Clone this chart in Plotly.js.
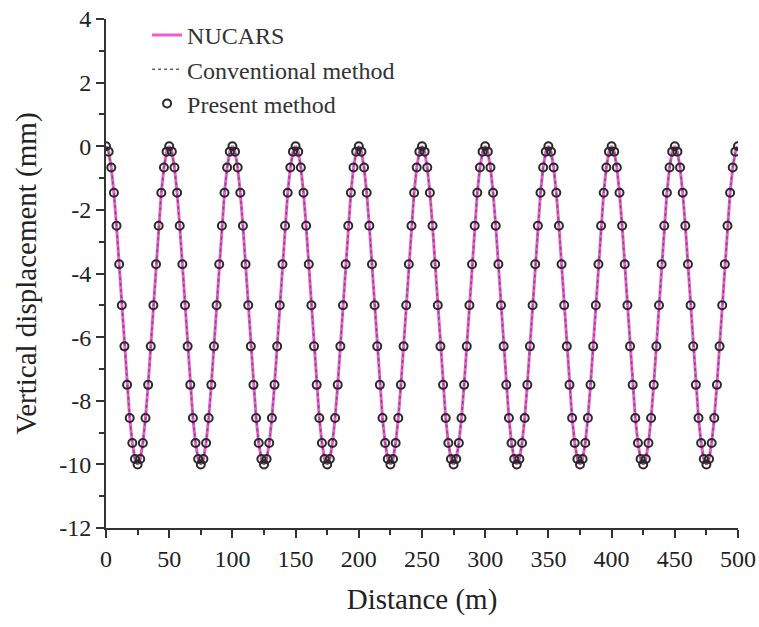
<!DOCTYPE html>
<html>
<head>
<meta charset="utf-8">
<script src="https://cdn.plot.ly/plotly-3.0.1.min.js"></script>
<style>html,body{margin:0;padding:0;background:#fff;}#chart{width:759px;height:627px;}</style>
</head>
<body>
<div id="chart"></div>
<script>
// Distance (m) sampling points (24 points per 50 m wave)
const distance = [
  0,2.08,4.17,6.25,8.33,10.42,12.5,14.58,16.67,18.75,20.83,22.92,25,27.08,29.17,31.25,33.33,35.42,37.5,39.58,41.67,43.75,45.83,47.92,
  50,52.08,54.17,56.25,58.33,60.42,62.5,64.58,66.67,68.75,70.83,72.92,75,77.08,79.17,81.25,83.33,85.42,87.5,89.58,91.67,93.75,95.83,97.92,
  100,102.08,104.17,106.25,108.33,110.42,112.5,114.58,116.67,118.75,120.83,122.92,125,127.08,129.17,131.25,133.33,135.42,137.5,139.58,141.67,143.75,145.83,147.92,
  150,152.08,154.17,156.25,158.33,160.42,162.5,164.58,166.67,168.75,170.83,172.92,175,177.08,179.17,181.25,183.33,185.42,187.5,189.58,191.67,193.75,195.83,197.92,
  200,202.08,204.17,206.25,208.33,210.42,212.5,214.58,216.67,218.75,220.83,222.92,225,227.08,229.17,231.25,233.33,235.42,237.5,239.58,241.67,243.75,245.83,247.92,
  250,252.08,254.17,256.25,258.33,260.42,262.5,264.58,266.67,268.75,270.83,272.92,275,277.08,279.17,281.25,283.33,285.42,287.5,289.58,291.67,293.75,295.83,297.92,
  300,302.08,304.17,306.25,308.33,310.42,312.5,314.58,316.67,318.75,320.83,322.92,325,327.08,329.17,331.25,333.33,335.42,337.5,339.58,341.67,343.75,345.83,347.92,
  350,352.08,354.17,356.25,358.33,360.42,362.5,364.58,366.67,368.75,370.83,372.92,375,377.08,379.17,381.25,383.33,385.42,387.5,389.58,391.67,393.75,395.83,397.92,
  400,402.08,404.17,406.25,408.33,410.42,412.5,414.58,416.67,418.75,420.83,422.92,425,427.08,429.17,431.25,433.33,435.42,437.5,439.58,441.67,443.75,445.83,447.92,
  450,452.08,454.17,456.25,458.33,460.42,462.5,464.58,466.67,468.75,470.83,472.92,475,477.08,479.17,481.25,483.33,485.42,487.5,489.58,491.67,493.75,495.83,497.92,
  500
];

// Vertical displacement (mm); the three curves coincide
const nucarsDisp = [
  0,-0.17,-0.67,-1.46,-2.5,-3.71,-5,-6.29,-7.5,-8.54,-9.33,-9.83,-10,-9.83,-9.33,-8.54,-7.5,-6.29,-5,-3.71,-2.5,-1.46,-0.67,-0.17,
  0,-0.17,-0.67,-1.46,-2.5,-3.71,-5,-6.29,-7.5,-8.54,-9.33,-9.83,-10,-9.83,-9.33,-8.54,-7.5,-6.29,-5,-3.71,-2.5,-1.46,-0.67,-0.17,
  0,-0.17,-0.67,-1.46,-2.5,-3.71,-5,-6.29,-7.5,-8.54,-9.33,-9.83,-10,-9.83,-9.33,-8.54,-7.5,-6.29,-5,-3.71,-2.5,-1.46,-0.67,-0.17,
  0,-0.17,-0.67,-1.46,-2.5,-3.71,-5,-6.29,-7.5,-8.54,-9.33,-9.83,-10,-9.83,-9.33,-8.54,-7.5,-6.29,-5,-3.71,-2.5,-1.46,-0.67,-0.17,
  0,-0.17,-0.67,-1.46,-2.5,-3.71,-5,-6.29,-7.5,-8.54,-9.33,-9.83,-10,-9.83,-9.33,-8.54,-7.5,-6.29,-5,-3.71,-2.5,-1.46,-0.67,-0.17,
  0,-0.17,-0.67,-1.46,-2.5,-3.71,-5,-6.29,-7.5,-8.54,-9.33,-9.83,-10,-9.83,-9.33,-8.54,-7.5,-6.29,-5,-3.71,-2.5,-1.46,-0.67,-0.17,
  0,-0.17,-0.67,-1.46,-2.5,-3.71,-5,-6.29,-7.5,-8.54,-9.33,-9.83,-10,-9.83,-9.33,-8.54,-7.5,-6.29,-5,-3.71,-2.5,-1.46,-0.67,-0.17,
  0,-0.17,-0.67,-1.46,-2.5,-3.71,-5,-6.29,-7.5,-8.54,-9.33,-9.83,-10,-9.83,-9.33,-8.54,-7.5,-6.29,-5,-3.71,-2.5,-1.46,-0.67,-0.17,
  0,-0.17,-0.67,-1.46,-2.5,-3.71,-5,-6.29,-7.5,-8.54,-9.33,-9.83,-10,-9.83,-9.33,-8.54,-7.5,-6.29,-5,-3.71,-2.5,-1.46,-0.67,-0.17,
  0,-0.17,-0.67,-1.46,-2.5,-3.71,-5,-6.29,-7.5,-8.54,-9.33,-9.83,-10,-9.83,-9.33,-8.54,-7.5,-6.29,-5,-3.71,-2.5,-1.46,-0.67,-0.17,
  0
];
const conventionalDisp = nucarsDisp.slice();
const presentDisp = nucarsDisp.slice();

const seriesNames = ["NUCARS", "Conventional method", "Present method"];
const yTickVals = [4, 2, 0, -2, -4, -6, -8, -10, -12];
const yTickText = ["4", "2", "0", "-2", "-4", "-6", "-8", "-10", "-12"];
const xTickVals = [0, 50, 100, 150, 200, 250, 300, 350, 400, 450, 500];

const FONT = "Liberation Serif";

const traces = [
  {
    x: distance, y: nucarsDisp, name: seriesNames[0],
    type: "scatter", mode: "lines",
    line: {color: "#f05ad2", width: 3}
  },
  {
    x: distance, y: conventionalDisp, name: seriesNames[1],
    type: "scatter", mode: "lines",
    line: {color: "#6a5a6e", width: 1.5, dash: "dot"}
  },
  {
    x: distance, y: presentDisp, name: seriesNames[2],
    type: "scatter", mode: "markers",
    marker: {symbol: "circle-open", size: 8, color: "#2a2a2a", line: {width: 2, color: "#2a2a2a"}}
  }
];

const axisCommon = {
  showgrid: false, zeroline: false, showline: true,
  linecolor: "#333", linewidth: 2,
  ticks: "outside", ticklen: 8, tickwidth: 2, tickcolor: "#333",
  tickfont: {family: FONT, size: 24, color: "#222"}
};

const layout = {
  width: 759, height: 627,
  font: {family: FONT, size: 24, color: "#222"},
  margin: {l: 106, r: 21, t: 19, b: 99},
  paper_bgcolor: "#fff", plot_bgcolor: "#fff",
  showlegend: true,
  legend: {
    x: 0.065, y: 1.012, xanchor: "left", yanchor: "top",
    bgcolor: "rgba(0,0,0,0)",
    font: {family: FONT, size: 24, color: "#333"},
    tracegroupgap: 0
  },
  xaxis: Object.assign({}, axisCommon, {
    range: [0, 500], autorange: false,
    tickmode: "array", tickvals: xTickVals, ticktext: xTickVals.map(String),
    minor: {dtick: 25, tick0: 0, ticks: "outside", ticklen: 5, tickwidth: 2, tickcolor: "#333"},
    title: {text: "Distance (m)", font: {family: FONT, size: 29, color: "#222"}, standoff: 18}
  }),
  yaxis: Object.assign({}, axisCommon, {
    range: [-12, 4], autorange: false,
    tickmode: "array", tickvals: yTickVals, ticktext: yTickText,
    minor: {dtick: 1, tick0: 0, ticks: "outside", ticklen: 5, tickwidth: 2, tickcolor: "#333"},
    title: {text: "Vertical displacement (mm)", font: {family: FONT, size: 29, color: "#222"}, standoff: 14}
  })
};

Plotly.newPlot("chart", traces, layout, {displayModeBar: false, staticPlot: true});
</script>
</body>
</html>
